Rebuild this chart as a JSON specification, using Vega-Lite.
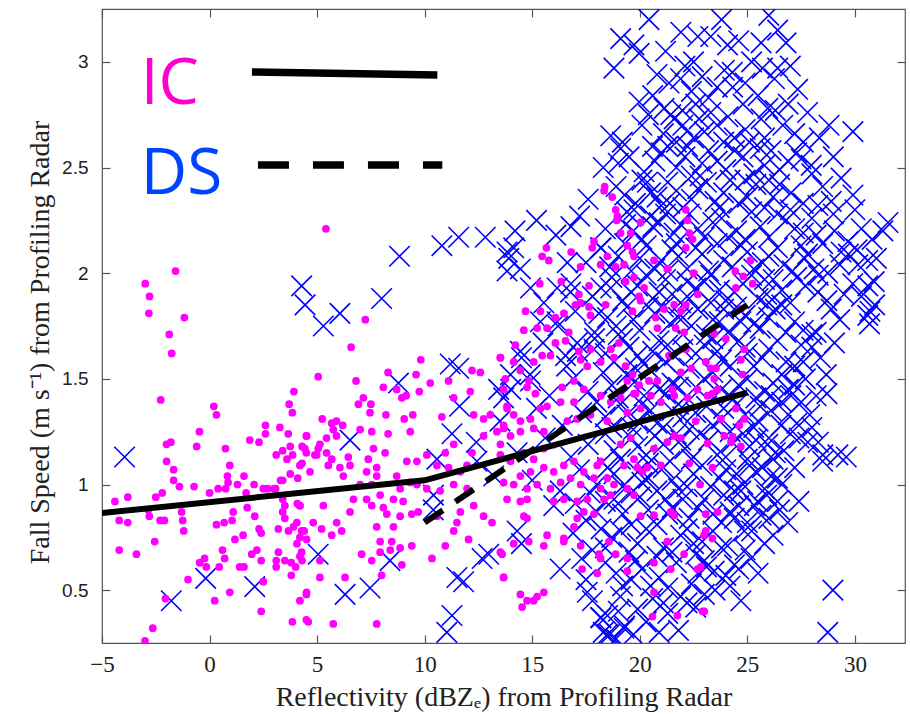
{
"$schema": "https://vega.github.io/schema/vega-lite/v6.json",
"width": 803, "height": 634,
"autosize": {"type": "none"},
"padding": {"left": 102, "top": 9, "right": 5, "bottom": 71},
"background": "white",
"config": {"view": {"stroke": "#555555", "strokeWidth": 1.2},
  "axis": {"grid": false, "domain": false, "tickSize": -8, "tickColor": "#555555", "tickWidth": 1.2, "labelFlush": false, "labelOverlap": false, "titleFontWeight": "normal", "labelColor": "#222222", "titleColor": "#222222"}},
"datasets": {
"ic": [
{"x":-1.58,"y":2.01},{"x":-2.99,"y":1.95},{"x":-2.79,"y":1.89},{"x":-2.82,"y":1.81},{"x":-1.17,"y":1.79},{"x":-1.87,"y":1.71},{"x":-1.76,"y":1.62},{"x":-2.27,"y":1.40},
{"x":3.92,"y":1.44},{"x":3.7,"y":1.38},{"x":3.85,"y":1.34},{"x":0.2,"y":1.37},{"x":0.32,"y":1.33},{"x":-0.47,"y":1.25},{"x":-0.6,"y":1.18},{"x":-2.0,"y":1.19},{"x":-1.8,"y":1.2},{"x":-2.0,"y":1.11},{"x":-1.67,"y":1.07},{"x":-1.67,"y":1.02},{"x":-1.4,"y":0.99},{"x":-0.72,"y":0.99},{"x":-2.2,"y":0.96},{"x":-2.5,"y":0.94},{"x":-4.4,"y":0.92},{"x":-3.8,"y":0.94},{"x":-4.2,"y":0.83},{"x":-3.8,"y":0.82},{"x":-2.8,"y":0.85},{"x":-2.3,"y":0.83},{"x":-2.1,"y":0.83},{"x":-1.3,"y":0.87},{"x":-1.25,"y":0.83},{"x":-1.2,"y":0.78},{"x":-2.55,"y":0.73},{"x":-4.2,"y":0.69},{"x":-3.4,"y":0.67},
{"x":0.74,"y":1.17},{"x":0.94,"y":1.09},{"x":0.83,"y":1.04},{"x":0.86,"y":1.01},{"x":0.75,"y":0.98},{"x":0.4,"y":0.98},{"x":0.0,"y":0.96},{"x":1.6,"y":1.04},{"x":1.3,"y":1.0},{"x":2.07,"y":1.0},{"x":1.75,"y":0.89},{"x":2.1,"y":0.85},{"x":1.1,"y":0.87},{"x":0.32,"y":0.81},{"x":0.68,"y":0.82},{"x":1.05,"y":0.83},{"x":1.18,"y":0.74},{"x":1.56,"y":0.76},{"x":2.3,"y":0.79},{"x":2.4,"y":0.77},{"x":0.6,"y":0.69},{"x":0.7,"y":0.65},{"x":-0.46,"y":0.63},{"x":-0.23,"y":0.65},{"x":-0.15,"y":0.61},{"x":-1.0,"y":0.55},{"x":-2.05,"y":0.46},{"x":-2.64,"y":0.32},{"x":-3.0,"y":0.26},{"x":0.24,"y":0.45},{"x":0.94,"y":0.49},{"x":2.4,"y":0.40},{"x":2.5,"y":0.54},{"x":1.4,"y":0.61},{"x":1.6,"y":0.61},{"x":1.96,"y":0.67},{"x":2.2,"y":0.69},{"x":2.4,"y":0.64},{"x":0.45,"y":0.61},
{"x":1.87,"y":1.21},{"x":2.3,"y":1.2},{"x":2.6,"y":1.24},{"x":2.6,"y":1.28},{"x":3.27,"y":1.27},{"x":3.66,"y":1.24},{"x":3.1,"y":1.14},{"x":3.4,"y":1.16},{"x":3.75,"y":1.18},{"x":3.86,"y":1.14},{"x":3.6,"y":1.12},{"x":3.75,"y":1.05},{"x":3.4,"y":1.02},{"x":3.0,"y":0.98},{"x":2.5,"y":0.98},{"x":2.7,"y":0.98},{"x":3.07,"y":0.98},{"x":3.4,"y":0.93},{"x":3.5,"y":0.90},{"x":3.4,"y":0.87},{"x":3.5,"y":0.84},{"x":3.9,"y":0.80},{"x":4.08,"y":0.91},{"x":4.2,"y":0.90},{"x":4.06,"y":0.82},{"x":3.67,"y":0.78},{"x":3.2,"y":0.79},{"x":4.06,"y":0.72},{"x":4.2,"y":0.75},{"x":4.4,"y":0.78},{"x":3.2,"y":0.68},{"x":3.1,"y":0.64},{"x":3.1,"y":0.61},{"x":3.5,"y":0.64},{"x":3.8,"y":0.63},{"x":3.8,"y":0.57},{"x":4.0,"y":0.61},{"x":4.2,"y":0.66},{"x":4.3,"y":0.64},{"x":4.2,"y":0.45},{"x":4.5,"y":0.48},{"x":3.85,"y":0.35},{"x":4.5,"y":0.36},{"x":4.1,"y":1.03},{"x":4.3,"y":1.1},{"x":4.3,"y":1.18},{"x":4.5,"y":1.23},{"x":4.5,"y":1.15},{"x":3.3,"y":1.02},{"x":1.7,"y":0.96},{"x":-2.85,"y":0.88},
{"x":5.41,"y":2.21},{"x":7.24,"y":1.78},{"x":6.58,"y":1.65},{"x":5.05,"y":1.51},{"x":6.81,"y":1.49},{"x":8.3,"y":1.53},{"x":8.08,"y":1.46},{"x":8.7,"y":1.45},{"x":8.94,"y":1.41},{"x":9.14,"y":1.42},{"x":9.75,"y":1.44},{"x":9.82,"y":1.59},{"x":9.6,"y":1.52},{"x":10.26,"y":1.48},
{"x":7.15,"y":1.41},{"x":6.92,"y":1.38},{"x":7.5,"y":1.38},{"x":7.46,"y":1.34},{"x":8.2,"y":1.33},{"x":9.05,"y":1.31},{"x":9.45,"y":1.33},{"x":9.33,"y":1.25},
{"x":5.24,"y":1.31},{"x":5.68,"y":1.29},{"x":5.9,"y":1.3},{"x":6.19,"y":1.28},{"x":5.75,"y":1.26},{"x":5.9,"y":1.23},{"x":5.44,"y":1.22},{"x":5.13,"y":1.19},{"x":5.05,"y":1.17},{"x":4.98,"y":1.14},
{"x":5.44,"y":1.15},{"x":5.68,"y":1.12},{"x":5.52,"y":1.09},{"x":4.51,"y":1.23},{"x":4.43,"y":1.17},{"x":4.2,"y":1.09},{"x":4.67,"y":1.06},{"x":4.9,"y":1.14},
{"x":6.45,"y":1.13},{"x":6.53,"y":1.09},{"x":6.06,"y":1.08},{"x":6.22,"y":1.04},
{"x":7.0,"y":1.26},{"x":7.54,"y":1.25},{"x":7.62,"y":1.17},{"x":7.38,"y":1.12},{"x":7.77,"y":1.08},{"x":8.3,"y":1.24},{"x":8.16,"y":1.15},
{"x":7.3,"y":1.06},{"x":7.77,"y":1.04},{"x":7.54,"y":1.0},{"x":7.0,"y":1.0},{"x":6.69,"y":0.93},{"x":7.3,"y":0.93},{"x":7.93,"y":0.95},{"x":8.08,"y":0.89},{"x":7.54,"y":0.9},
{"x":8.7,"y":1.04},{"x":9.17,"y":1.11},{"x":9.64,"y":1.11},{"x":9.33,"y":1.01},{"x":8.86,"y":0.98},{"x":8.55,"y":0.93},{"x":9.0,"y":0.92},{"x":9.64,"y":1.0},
{"x":8.24,"y":0.86},{"x":8.86,"y":0.85},{"x":9.4,"y":0.86},{"x":9.7,"y":0.87},{"x":8.55,"y":0.80},{"x":7.77,"y":0.80},{"x":7.93,"y":0.73},{"x":8.47,"y":0.73},{"x":8.86,"y":0.70},{"x":9.4,"y":0.71},
{"x":5.29,"y":0.9},{"x":4.82,"y":0.82},{"x":4.2,"y":0.9},{"x":4.28,"y":0.78},{"x":4.51,"y":0.74},{"x":5.21,"y":0.79},{"x":5.68,"y":0.76},{"x":6.14,"y":0.78},{"x":5.91,"y":0.82},{"x":6.53,"y":0.87},
{"x":7.07,"y":0.67},{"x":7.54,"y":0.64},{"x":7.93,"y":0.68},{"x":8.4,"y":0.69},{"x":8.0,"y":0.57},{"x":8.94,"y":0.62},{"x":6.3,"y":0.56},{"x":5.13,"y":0.56},{"x":4.51,"y":0.49},{"x":4.59,"y":0.35},{"x":5.75,"y":0.34},{"x":7.77,"y":0.34},{"x":4.28,"y":0.68},{"x":5.13,"y":0.64},
{"x":10.1,"y":1.14},{"x":10.57,"y":1.09},{"x":10.96,"y":1.15},{"x":11.35,"y":1.19},{"x":11.11,"y":1.08},{"x":11.66,"y":1.06},{"x":11.97,"y":1.09},{"x":12.2,"y":1.15},{"x":12.74,"y":1.23},{"x":13.36,"y":1.25},{"x":13.52,"y":1.19},{"x":13.67,"y":1.28},{"x":13.83,"y":1.37},
{"x":10.1,"y":0.98},{"x":10.72,"y":0.97},{"x":11.35,"y":1.0},{"x":11.97,"y":0.98},{"x":12.28,"y":0.9},{"x":11.5,"y":0.82},{"x":10.96,"y":0.71},{"x":10.34,"y":0.65},{"x":10.57,"y":0.85},{"x":11.66,"y":0.87},{"x":12.74,"y":0.85},{"x":13.13,"y":0.82},{"x":12.04,"y":0.74},{"x":13.67,"y":0.56},{"x":13.52,"y":0.68},
{"x":11.11,"y":1.49},{"x":11.35,"y":1.41},{"x":12.12,"y":1.44},{"x":12.2,"y":1.54},{"x":12.59,"y":1.53},{"x":13.52,"y":1.6},{"x":12.28,"y":1.33},{"x":12.74,"y":1.31},{"x":13.05,"y":1.33},{"x":10.8,"y":1.32},{"x":11.35,"y":0.78},
{"x":18.37,"y":2.41},{"x":18.34,"y":2.39},{"x":18.72,"y":2.36},{"x":18.88,"y":2.30},{"x":18.96,"y":2.27},{"x":18.93,"y":2.25},{"x":19.11,"y":2.19},{"x":19.58,"y":2.19},{"x":20.04,"y":2.24},
{"x":17.87,"y":2.15},{"x":17.79,"y":2.12},{"x":18.49,"y":2.08},{"x":18.18,"y":2.04},{"x":18.88,"y":2.03},{"x":19.27,"y":2.04},{"x":19.42,"y":2.13},{"x":19.66,"y":2.10},{"x":19.73,"y":2.08},
{"x":15.66,"y":2.12},{"x":15.46,"y":2.08},{"x":15.77,"y":2.06},{"x":16.81,"y":2.10},{"x":17.25,"y":2.03},{"x":17.64,"y":1.94},{"x":16.35,"y":1.96},{"x":15.35,"y":1.95},
{"x":19.34,"y":1.96},{"x":19.73,"y":1.98},{"x":19.97,"y":1.89},{"x":20.2,"y":1.93},{"x":20.66,"y":2.06},{"x":21.28,"y":2.02},
{"x":22.14,"y":2.30},{"x":22.22,"y":2.25},{"x":22.3,"y":2.19},{"x":22.45,"y":2.16},{"x":22.14,"y":2.12},
{"x":17.01,"y":1.85},{"x":17.25,"y":1.86},{"x":17.64,"y":1.84},{"x":17.71,"y":1.80},{"x":18.41,"y":1.85},{"x":17.17,"y":1.90},
{"x":14.69,"y":1.82},{"x":15.38,"y":1.82},{"x":16.08,"y":1.79},{"x":16.47,"y":1.81},{"x":16.7,"y":1.72},{"x":16.55,"y":1.68},{"x":16.08,"y":1.67},{"x":15.69,"y":1.74},{"x":15.23,"y":1.74},{"x":14.61,"y":1.73},{"x":14.22,"y":1.66},
{"x":13.75,"y":1.50},{"x":14.14,"y":1.58},{"x":14.45,"y":1.54},{"x":14.84,"y":1.49},{"x":15.07,"y":1.58},{"x":15.46,"y":1.61},{"x":15.85,"y":1.61},
{"x":17.17,"y":1.63},{"x":17.71,"y":1.64},{"x":18.18,"y":1.58},{"x":17.56,"y":1.56},{"x":17.25,"y":1.59},
{"x":19.66,"y":1.82},{"x":20.04,"y":1.87},{"x":21.13,"y":1.83},{"x":21.6,"y":1.85},{"x":21.91,"y":1.82},{"x":22.14,"y":1.85},{"x":21.67,"y":1.74},{"x":22.06,"y":1.72},{"x":22.14,"y":1.64},{"x":21.36,"y":1.61},{"x":20.82,"y":1.74},{"x":20.74,"y":1.79},
{"x":19.03,"y":1.67},{"x":18.65,"y":1.64},{"x":18.8,"y":1.60},{"x":19.34,"y":1.56},{"x":19.66,"y":1.52},{"x":19.97,"y":1.47},{"x":19.81,"y":1.43},{"x":19.42,"y":1.49},{"x":20.43,"y":1.49},{"x":20.82,"y":1.49},{"x":21.52,"y":1.45},{"x":21.91,"y":1.53},{"x":22.68,"y":1.45},{"x":23.15,"y":1.42},
{"x":13.52,"y":1.60},{"x":13.67,"y":1.45},{"x":14.76,"y":1.46},{"x":15.15,"y":1.43},{"x":16.39,"y":1.46},{"x":16.94,"y":1.49},{"x":17.4,"y":1.45},
{"x":13.83,"y":1.36},{"x":14.14,"y":1.33},{"x":14.45,"y":1.30},{"x":14.92,"y":1.31},{"x":15.38,"y":1.36},{"x":15.69,"y":1.37},{"x":16.32,"y":1.39},{"x":16.94,"y":1.39},{"x":18.18,"y":1.42},{"x":18.65,"y":1.39},{"x":19.11,"y":1.41},{"x":19.73,"y":1.43},{"x":20.51,"y":1.42},{"x":20.98,"y":1.39},{"x":21.6,"y":1.42},{"x":22.22,"y":1.41},
{"x":13.67,"y":1.265},{"x":13.99,"y":1.23},{"x":14.45,"y":1.25},{"x":15.07,"y":1.265},{"x":15.54,"y":1.25},{"x":16.63,"y":1.30},{"x":17.09,"y":1.31},{"x":17.71,"y":1.33},{"x":18.49,"y":1.30},{"x":19.42,"y":1.34},{"x":20.04,"y":1.36},
{"x":13.52,"y":1.14},{"x":13.99,"y":1.11},{"x":14.61,"y":1.15},{"x":15.07,"y":1.12},{"x":15.54,"y":1.17},{"x":14.45,"y":1.04},{"x":14.92,"y":1.06},{"x":15.54,"y":1.08},{"x":16.0,"y":1.06},{"x":16.47,"y":1.09},{"x":16.94,"y":1.11},{"x":17.4,"y":1.06},
{"x":13.67,"y":1.01},{"x":14.14,"y":1.0},{"x":14.76,"y":0.98},{"x":15.23,"y":1.0},{"x":15.85,"y":0.98},{"x":16.32,"y":1.01},{"x":16.78,"y":1.03},{"x":17.25,"y":1.0},{"x":17.87,"y":1.03},{"x":18.18,"y":0.98},{"x":18.49,"y":1.03},{"x":18.8,"y":1.0},{"x":19.42,"y":0.98},{"x":19.73,"y":0.95},{"x":18.65,"y":0.95},{"x":18.34,"y":0.93},
{"x":13.83,"y":0.93},{"x":14.45,"y":0.92},{"x":14.76,"y":0.93},{"x":16.0,"y":0.92},{"x":16.47,"y":0.93},{"x":17.09,"y":0.92},{"x":17.56,"y":0.93},{"x":18.02,"y":1.09},{"x":18.18,"y":1.11},{"x":19.89,"y":1.08},{"x":20.35,"y":1.08},{"x":20.98,"y":1.09},{"x":21.6,"y":1.23},{"x":21.91,"y":1.22},{"x":21.28,"y":1.20},{"x":20.66,"y":1.17},
{"x":17.4,"y":0.87},{"x":17.87,"y":0.86},{"x":17.09,"y":0.84},{"x":14.76,"y":0.84},{"x":14.61,"y":0.85},{"x":15.69,"y":0.76},{"x":16.47,"y":0.745},{"x":16.47,"y":0.73},{"x":15.54,"y":0.71},{"x":14.84,"y":0.73},{"x":14.14,"y":0.72},{"x":13.6,"y":0.67},{"x":13.67,"y":0.56},
{"x":16.94,"y":0.80},{"x":17.25,"y":0.71},{"x":17.32,"y":0.60},{"x":18.1,"y":0.67},{"x":18.18,"y":0.65},{"x":18.02,"y":0.58},{"x":18.57,"y":0.73},{"x":18.88,"y":0.67},
{"x":14.45,"y":0.48},{"x":14.76,"y":0.45},{"x":15.07,"y":0.45},{"x":15.23,"y":0.47},{"x":15.54,"y":0.49},{"x":14.53,"y":0.42},
{"x":19.42,"y":0.65},{"x":20.04,"y":0.85},{"x":20.66,"y":0.855},{"x":21.44,"y":0.87},{"x":21.6,"y":0.855},{"x":21.28,"y":0.73},{"x":20.66,"y":0.63},{"x":21.44,"y":0.60},{"x":22.06,"y":0.67},{"x":22.68,"y":0.60},{"x":22.99,"y":0.76},{"x":19.42,"y":0.59},{"x":20.66,"y":0.49},{"x":20.59,"y":0.375},{"x":21.75,"y":0.38},{"x":22.92,"y":0.40},
{"x":20.12,"y":1.06},{"x":19.73,"y":1.12},{"x":19.27,"y":1.09},{"x":19.11,"y":1.19},{"x":19.58,"y":1.22},
{"x":25.14,"y":2.06},{"x":24.44,"y":2.01},{"x":24.81,"y":1.985},{"x":25.25,"y":1.95},{"x":24.47,"y":1.93},{"x":24.7,"y":1.83},
{"x":23.46,"y":1.714},{"x":24.0,"y":1.69},{"x":24.86,"y":1.64},{"x":24.7,"y":1.59},{"x":23.07,"y":1.58},{"x":23.3,"y":1.55},{"x":23.54,"y":1.55},{"x":23.46,"y":1.50},{"x":24.78,"y":1.52},{"x":23.38,"y":1.43},{"x":23.62,"y":1.45},{"x":24.47,"y":1.36},{"x":24.86,"y":1.31},{"x":23.77,"y":1.31},{"x":24.63,"y":1.28},{"x":23.93,"y":1.23},{"x":24.32,"y":1.226},{"x":24.24,"y":1.20},{"x":24.7,"y":1.18},{"x":23.15,"y":1.195},{"x":23.38,"y":1.08},{"x":23.07,"y":0.86},{"x":23.62,"y":0.87},{"x":23.07,"y":0.78},{"x":23.38,"y":0.745},{"x":22.84,"y":0.61},{"x":23.0,"y":0.40},
{"x":22.5,"y":2.0},{"x":22.7,"y":1.9},{"x":22.4,"y":1.55},{"x":22.6,"y":1.3},{"x":22.3,"y":1.1},{"x":22.8,"y":1.0}
],
"ds": [
{"x":-3.95,"y":1.13},{"x":-1.78,"y":0.45},{"x":-0.18,"y":0.556},{"x":2.1,"y":0.517},{"x":4.28,"y":1.94},{"x":4.44,"y":1.85},{"x":5.29,"y":1.75},{"x":6.06,"y":1.81},{"x":8.0,"y":1.88},{"x":8.83,"y":2.08},{"x":10.8,"y":2.13},{"x":11.58,"y":2.17},{"x":12.82,"y":2.17},{"x":13.83,"y":2.1},{"x":13.83,"y":2.01},{"x":8.78,"y":1.48},{"x":6.53,"y":1.21},{"x":11.19,"y":1.57},{"x":11.58,"y":1.55},{"x":11.62,"y":1.37},{"x":11.27,"y":1.24},{"x":10.57,"y":1.12},{"x":12.43,"y":1.11},{"x":13.44,"y":1.45},{"x":13.67,"y":1.41},{"x":13.21,"y":1.04},{"x":10.41,"y":0.95},{"x":5.05,"y":0.67},{"x":8.39,"y":0.64},{"x":6.3,"y":0.48},{"x":7.46,"y":0.51},{"x":11.5,"y":0.56},{"x":11.81,"y":0.54},{"x":12.67,"y":0.65},{"x":12.98,"y":0.67},{"x":11.27,"y":0.38},{"x":11.03,"y":0.30},
{"x":20.43,"y":3.2},{"x":21.91,"y":3.14},{"x":19.11,"y":3.11},{"x":19.73,"y":3.08},{"x":19.97,"y":3.04},{"x":18.8,"y":2.97},{"x":19.97,"y":2.81},{"x":21.36,"y":2.9},{"x":21.44,"y":2.75},{"x":21.13,"y":2.78},{"x":21.6,"y":2.73},{"x":21.98,"y":2.77},{"x":18.65,"y":2.65},{"x":19.19,"y":2.62},{"x":20.59,"y":2.6},{"x":22.22,"y":2.6},{"x":22.76,"y":2.73},{"x":23.0,"y":2.67},
{"x":24.08,"y":3.08},{"x":26.41,"y":3.15},{"x":25.64,"y":3.09},{"x":26.8,"y":3.09},{"x":23.93,"y":2.96},{"x":24.32,"y":2.88},{"x":26.41,"y":2.97},{"x":26.26,"y":2.92},{"x":27.34,"y":2.87},{"x":25.95,"y":2.78},{"x":25.64,"y":2.73},{"x":26.65,"y":2.70},{"x":28.35,"y":2.64},{"x":29.91,"y":2.67},{"x":29.36,"y":2.45},{"x":29.91,"y":2.37},{"x":31.54,"y":2.24},{"x":29.68,"y":2.15},{"x":30.3,"y":2.21},{"x":30.6,"y":1.94},{"x":28.74,"y":2.0},{"x":27.66,"y":2.07},{"x":27.97,"y":2.51},{"x":27.5,"y":2.54},{"x":27.03,"y":2.38},{"x":28.28,"y":2.32},{"x":29.05,"y":2.2},{"x":29.36,"y":2.1},{"x":30.14,"y":2.04},{"x":30.92,"y":1.85},{"x":30.6,"y":1.80},{"x":28.28,"y":1.91},{"x":28.9,"y":1.83},
{"x":30.68,"y":1.76},{"x":29.05,"y":1.67},{"x":28.67,"y":1.52},{"x":29.21,"y":1.14},{"x":29.6,"y":1.13},{"x":28.51,"y":1.14},{"x":27.81,"y":1.2},{"x":26.88,"y":0.82},{"x":25.64,"y":0.855},{"x":25.17,"y":0.65},{"x":28.98,"y":0.50},{"x":28.74,"y":0.30},{"x":27.5,"y":1.39},{"x":27.03,"y":1.42},{"x":26.57,"y":1.28},{"x":25.95,"y":1.19},{"x":26.1,"y":1.04},{"x":25.48,"y":0.92},{"x":24.7,"y":0.97},{"x":24.39,"y":0.84},{"x":24.08,"y":0.71},{"x":23.46,"y":0.59},{"x":24.86,"y":0.78},{"x":25.33,"y":0.90},
{"x":14.14,"y":2.12},{"x":13.91,"y":2.07},{"x":14.45,"y":2.02},{"x":14.92,"y":1.93},{"x":15.54,"y":1.86},{"x":16.16,"y":1.93},{"x":16.63,"y":2.05},{"x":16.78,"y":1.91},{"x":15.38,"y":1.77},{"x":16.16,"y":1.77},{"x":17.09,"y":1.67},{"x":17.87,"y":1.64},{"x":16.55,"y":1.61},{"x":14.45,"y":1.63},{"x":13.99,"y":1.52},{"x":14.92,"y":1.49},{"x":18.18,"y":2.12},{"x":19.34,"y":2.23},{"x":18.65,"y":1.93},{"x":19.73,"y":2.3},{"x":20.35,"y":2.43},{"x":19.11,"y":2.59},
{"x":22.5,"y":3.0},{"x":23.3,"y":3.12},{"x":22.9,"y":2.93},
{"x":23.2,"y":2.83},{"x":24.8,"y":2.8},{"x":22.4,"y":2.86},{"x":20.6,"y":2.84},{"x":27.8,"y":2.76},
{"x":23.6,"y":2.7},{"x":24.4,"y":2.64},{"x":20.1,"y":2.7},{"x":25.1,"y":2.62},{"x":27.2,"y":2.66},{"x":21.7,"y":2.62},
{"x":18.3,"y":2.5},{"x":19.5,"y":2.55},{"x":20.2,"y":2.48},{"x":21.0,"y":2.57},{"x":21.7,"y":2.5},{"x":22.4,"y":2.46},{"x":23.2,"y":2.58},{"x":24.0,"y":2.49},{"x":24.8,"y":2.55},{"x":25.3,"y":2.47},{"x":26.1,"y":2.58},{"x":28.0,"y":2.47},{"x":22.9,"y":2.52},{"x":25.8,"y":2.51},{"x":26.9,"y":2.53},
{"x":17.6,"y":2.35},{"x":18.9,"y":2.41},{"x":19.8,"y":2.33},{"x":20.5,"y":2.38},{"x":21.3,"y":2.43},{"x":22.0,"y":2.31},{"x":22.7,"y":2.4},{"x":23.5,"y":2.34},{"x":24.2,"y":2.44},{"x":25.0,"y":2.36},{"x":25.8,"y":2.31},{"x":26.5,"y":2.42},{"x":27.6,"y":2.33},{"x":21.0,"y":2.32},{"x":23.9,"y":2.38},{"x":26.0,"y":2.44},
{"x":14.2,"y":2.2},{"x":15.2,"y":2.25},{"x":16.1,"y":2.18},{"x":17.2,"y":2.27},{"x":18.4,"y":2.21},{"x":19.4,"y":2.29},{"x":20.1,"y":2.16},{"x":20.9,"y":2.24},{"x":21.6,"y":2.19},{"x":22.3,"y":2.28},{"x":23.0,"y":2.17},{"x":23.8,"y":2.26},{"x":24.5,"y":2.2},{"x":25.2,"y":2.29},{"x":26.0,"y":2.17},{"x":26.8,"y":2.25},{"x":27.6,"y":2.19},{"x":29.0,"y":2.28},{"x":31.3,"y":2.2},{"x":16.8,"y":2.22},{"x":21.2,"y":2.28},{"x":24.9,"y":2.16},{"x":28.2,"y":2.18},
{"x":17.5,"y":2.05},{"x":18.2,"y":2.12},{"x":19.0,"y":2.08},{"x":19.6,"y":2.01},{"x":20.3,"y":2.13},{"x":21.0,"y":2.06},{"x":21.5,"y":2.11},{"x":22.2,"y":2.02},{"x":22.9,"y":2.09},{"x":23.6,"y":2.14},{"x":24.3,"y":2.03},{"x":25.0,"y":2.1},{"x":25.7,"y":2.05},{"x":26.4,"y":2.12},{"x":27.1,"y":2.01},{"x":27.8,"y":2.09},{"x":28.5,"y":2.14},{"x":30.1,"y":2.11},{"x":30.6,"y":2.06},{"x":29.3,"y":2.04},{"x":23.2,"y":2.01},{"x":26.0,"y":2.08},{"x":20.7,"y":2.02},
{"x":16.8,"y":1.95},{"x":17.8,"y":1.89},{"x":18.7,"y":1.98},{"x":19.2,"y":1.87},{"x":19.9,"y":1.94},{"x":20.6,"y":1.88},{"x":21.2,"y":1.97},{"x":21.9,"y":1.86},{"x":22.6,"y":1.93},{"x":23.3,"y":1.99},{"x":24.0,"y":1.87},{"x":24.8,"y":1.95},{"x":25.5,"y":1.88},{"x":26.2,"y":1.97},{"x":27.0,"y":1.86},{"x":27.7,"y":1.94},{"x":28.3,"y":1.99},{"x":29.5,"y":1.9},{"x":30.9,"y":1.96},{"x":30.3,"y":1.89},{"x":22.2,"y":1.96},{"x":25.9,"y":1.9},{"x":23.7,"y":1.92},
{"x":16.2,"y":1.75},{"x":17.0,"y":1.82},{"x":17.9,"y":1.72},{"x":18.5,"y":1.79},{"x":19.4,"y":1.84},{"x":20.0,"y":1.73},{"x":20.7,"y":1.81},{"x":21.4,"y":1.76},{"x":22.0,"y":1.71},{"x":22.7,"y":1.83},{"x":23.4,"y":1.78},{"x":24.1,"y":1.72},{"x":24.9,"y":1.8},{"x":25.6,"y":1.74},{"x":26.3,"y":1.83},{"x":27.2,"y":1.77},{"x":28.0,"y":1.71},{"x":30.7,"y":1.82},{"x":21.1,"y":1.84},{"x":23.9,"y":1.83},{"x":26.8,"y":1.72},{"x":19.0,"y":1.71},
{"x":14.5,"y":1.6},{"x":15.5,"y":1.67},{"x":16.6,"y":1.56},{"x":17.1,"y":1.63},{"x":17.9,"y":1.69},{"x":18.8,"y":1.58},{"x":19.5,"y":1.65},{"x":20.2,"y":1.57},{"x":20.9,"y":1.68},{"x":21.6,"y":1.61},{"x":22.3,"y":1.55},{"x":23.0,"y":1.66},{"x":23.8,"y":1.59},{"x":24.6,"y":1.68},{"x":25.3,"y":1.56},{"x":26.0,"y":1.64},{"x":26.8,"y":1.58},{"x":27.5,"y":1.66},{"x":28.4,"y":1.6},{"x":22.0,"y":1.64},{"x":25.0,"y":1.62},{"x":19.9,"y":1.61},
{"x":14.0,"y":1.45},{"x":14.9,"y":1.52},{"x":15.8,"y":1.42},{"x":16.9,"y":1.5},{"x":17.6,"y":1.44},{"x":18.3,"y":1.53},{"x":19.0,"y":1.41},{"x":19.8,"y":1.49},{"x":20.5,"y":1.54},{"x":21.2,"y":1.43},{"x":21.9,"y":1.51},{"x":22.6,"y":1.46},{"x":23.4,"y":1.53},{"x":24.2,"y":1.42},{"x":25.0,"y":1.5},{"x":25.8,"y":1.44},{"x":26.6,"y":1.52},{"x":27.2,"y":1.47},{"x":28.7,"y":1.43},{"x":24.6,"y":1.47},{"x":20.9,"y":1.45},
{"x":13.5,"y":1.3},{"x":15.2,"y":1.36},{"x":16.4,"y":1.28},{"x":17.3,"y":1.34},{"x":18.0,"y":1.39},{"x":18.7,"y":1.27},{"x":19.4,"y":1.33},{"x":20.1,"y":1.38},{"x":20.8,"y":1.29},{"x":21.5,"y":1.35},{"x":22.3,"y":1.26},{"x":23.1,"y":1.37},{"x":23.8,"y":1.31},{"x":24.5,"y":1.38},{"x":25.3,"y":1.27},{"x":26.1,"y":1.35},{"x":26.6,"y":1.39},{"x":27.3,"y":1.29},{"x":22.0,"y":1.32},{"x":24.9,"y":1.33},{"x":19.7,"y":1.26},
{"x":12.4,"y":1.2},{"x":14.3,"y":1.15},{"x":15.6,"y":1.22},{"x":16.8,"y":1.13},{"x":17.6,"y":1.19},{"x":18.4,"y":1.24},{"x":19.1,"y":1.12},{"x":19.9,"y":1.18},{"x":20.7,"y":1.23},{"x":21.4,"y":1.11},{"x":22.1,"y":1.17},{"x":22.8,"y":1.24},{"x":23.6,"y":1.14},{"x":24.3,"y":1.2},{"x":25.0,"y":1.12},{"x":26.7,"y":1.16},{"x":27.4,"y":1.22},{"x":28.5,"y":1.11},{"x":21.9,"y":1.21},{"x":24.8,"y":1.24},{"x":20.3,"y":1.14},
{"x":15.0,"y":1.02},{"x":16.3,"y":0.97},{"x":17.2,"y":1.07},{"x":18.0,"y":1.0},{"x":18.8,"y":1.05},{"x":19.6,"y":0.96},{"x":20.4,"y":1.03},{"x":21.1,"y":1.08},{"x":21.8,"y":0.98},{"x":22.5,"y":1.05},{"x":23.3,"y":0.99},{"x":24.0,"y":1.07},{"x":24.8,"y":1.0},{"x":25.4,"y":1.06},{"x":26.4,"y":1.03},{"x":21.5,"y":1.02},{"x":23.7,"y":1.03},{"x":19.2,"y":0.99},
{"x":10.4,"y":0.88},{"x":16.0,"y":0.9},{"x":17.5,"y":0.83},{"x":18.4,"y":0.92},{"x":19.2,"y":0.86},{"x":20.0,"y":0.94},{"x":20.8,"y":0.81},{"x":21.5,"y":0.89},{"x":22.3,"y":0.84},{"x":23.0,"y":0.93},{"x":23.8,"y":0.82},{"x":24.6,"y":0.9},{"x":26.0,"y":0.84},{"x":22.0,"y":0.93},{"x":24.2,"y":0.87},{"x":19.6,"y":0.81},
{"x":14.5,"y":0.72},{"x":16.9,"y":0.77},{"x":17.8,"y":0.69},{"x":18.7,"y":0.75},{"x":19.5,"y":0.68},{"x":20.3,"y":0.79},{"x":21.1,"y":0.7},{"x":21.9,"y":0.76},{"x":22.6,"y":0.67},{"x":23.4,"y":0.78},{"x":24.9,"y":0.69},{"x":22.9,"y":0.73},{"x":20.8,"y":0.66},{"x":18.2,"y":0.79},{"x":14.3,"y":0.78},
{"x":16.3,"y":0.6},{"x":17.5,"y":0.55},{"x":18.4,"y":0.63},{"x":19.2,"y":0.52},{"x":20.1,"y":0.6},{"x":20.9,"y":0.56},{"x":21.7,"y":0.63},{"x":22.4,"y":0.53},{"x":23.1,"y":0.61},{"x":24.0,"y":0.57},{"x":18.9,"y":0.58},{"x":21.3,"y":0.51},
{"x":17.8,"y":0.45},{"x":18.5,"y":0.38},{"x":19.1,"y":0.47},{"x":19.9,"y":0.41},{"x":20.6,"y":0.46},{"x":21.3,"y":0.39},{"x":22.2,"y":0.44},{"x":23.0,"y":0.48},{"x":18.2,"y":0.37},
{"x":18.3,"y":0.3},{"x":18.9,"y":0.27},{"x":19.3,"y":0.33},{"x":18.6,"y":0.29},
{"x":17.56,"y":0.49},{"x":18.18,"y":0.37},{"x":18.49,"y":0.29},{"x":19.27,"y":0.32},
{"x":21.2,"y":3.05},{"x":23.8,"y":3.2},{"x":25.2,"y":3.0},{"x":26.0,"y":3.22},{"x":24.6,"y":3.1},{"x":22.1,"y":2.98},{"x":27.0,"y":2.98},
{"x":21.9,"y":2.92},{"x":23.6,"y":2.88},{"x":24.9,"y":2.9},{"x":25.5,"y":2.84},{"x":26.9,"y":2.8},{"x":20.8,"y":2.94},{"x":22.6,"y":2.8},
{"x":21.1,"y":2.66},{"x":22.0,"y":2.7},{"x":23.3,"y":2.76},{"x":24.1,"y":2.74},{"x":24.9,"y":2.68},{"x":25.8,"y":2.64},{"x":26.3,"y":2.77},{"x":27.6,"y":2.62},{"x":20.4,"y":2.75},{"x":22.5,"y":2.64},{"x":28.8,"y":2.7},
{"x":19.0,"y":2.52},{"x":20.7,"y":2.53},{"x":21.3,"y":2.6},{"x":22.1,"y":2.55},{"x":23.6,"y":2.53},{"x":24.4,"y":2.58},{"x":25.6,"y":2.59},{"x":26.5,"y":2.49},{"x":27.3,"y":2.57},{"x":29.0,"y":2.55},
{"x":19.3,"y":2.37},{"x":20.1,"y":2.44},{"x":20.8,"y":2.36},{"x":21.7,"y":2.39},{"x":22.4,"y":2.35},{"x":23.1,"y":2.43},{"x":23.7,"y":2.31},{"x":24.6,"y":2.33},{"x":25.4,"y":2.42},{"x":26.2,"y":2.36},{"x":27.0,"y":2.3},{"x":28.5,"y":2.41},{"x":28.9,"y":2.34},
{"x":19.7,"y":2.2},{"x":20.5,"y":2.27},{"x":21.9,"y":2.23},{"x":22.7,"y":2.21},{"x":23.4,"y":2.24},{"x":24.1,"y":2.17},{"x":25.6,"y":2.22},{"x":26.4,"y":2.28},{"x":27.2,"y":2.21},{"x":28.0,"y":2.26},{"x":30.0,"y":2.3},{"x":30.8,"y":2.16},
{"x":18.6,"y":2.03},{"x":19.3,"y":2.14},{"x":20.0,"y":2.07},{"x":21.3,"y":2.01},{"x":21.8,"y":2.08},{"x":22.6,"y":2.12},{"x":23.9,"y":2.06},{"x":24.7,"y":2.13},{"x":25.3,"y":2.02},{"x":26.7,"y":2.04},{"x":27.5,"y":2.13},{"x":28.1,"y":2.02},{"x":29.7,"y":2.09},{"x":31.0,"y":2.07},
{"x":18.2,"y":1.93},{"x":19.6,"y":1.91},{"x":20.3,"y":1.99},{"x":21.5,"y":1.9},{"x":22.3,"y":1.88},{"x":23.0,"y":1.96},{"x":24.4,"y":1.91},{"x":25.2,"y":1.99},{"x":25.9,"y":1.85},{"x":26.6,"y":1.92},{"x":27.3,"y":1.98},{"x":28.7,"y":1.87},{"x":29.9,"y":1.95},
{"x":18.1,"y":1.81},{"x":18.9,"y":1.75},{"x":19.7,"y":1.78},{"x":20.4,"y":1.84},{"x":21.8,"y":1.79},{"x":22.4,"y":1.75},{"x":23.1,"y":1.71},{"x":23.7,"y":1.77},{"x":24.5,"y":1.84},{"x":25.3,"y":1.76},{"x":26.0,"y":1.79},{"x":26.6,"y":1.85},{"x":27.6,"y":1.73},{"x":29.3,"y":1.78},
{"x":18.4,"y":1.62},{"x":19.2,"y":1.69},{"x":19.8,"y":1.55},{"x":20.6,"y":1.63},{"x":21.3,"y":1.66},{"x":22.6,"y":1.62},{"x":23.4,"y":1.69},{"x":24.2,"y":1.56},{"x":24.9,"y":1.65},{"x":25.7,"y":1.6},{"x":26.4,"y":1.68},{"x":27.2,"y":1.56},{"x":28.0,"y":1.65},
{"x":18.7,"y":1.47},{"x":19.4,"y":1.52},{"x":20.2,"y":1.42},{"x":21.5,"y":1.48},{"x":22.3,"y":1.4},{"x":23.0,"y":1.5},{"x":23.8,"y":1.45},{"x":25.4,"y":1.41},{"x":26.2,"y":1.48},{"x":27.7,"y":1.5},{"x":28.2,"y":1.42},
{"x":18.4,"y":1.32},{"x":19.1,"y":1.38},{"x":19.9,"y":1.3},{"x":21.1,"y":1.27},{"x":21.8,"y":1.38},{"x":22.6,"y":1.34},{"x":23.4,"y":1.28},{"x":24.2,"y":1.25},{"x":25.6,"y":1.37},{"x":26.9,"y":1.33},{"x":28.0,"y":1.27},
{"x":18.8,"y":1.16},{"x":19.6,"y":1.22},{"x":20.4,"y":1.1},{"x":21.1,"y":1.19},{"x":22.4,"y":1.12},{"x":23.2,"y":1.21},{"x":24.0,"y":1.13},{"x":25.4,"y":1.21},{"x":26.2,"y":1.12},{"x":27.0,"y":1.24},
{"x":17.7,"y":0.96},{"x":18.5,"y":1.08},{"x":19.9,"y":1.06},{"x":20.8,"y":0.97},{"x":22.2,"y":0.99},{"x":22.9,"y":1.09},{"x":24.4,"y":0.97},{"x":25.1,"y":1.09},{"x":25.8,"y":0.98},
{"x":17.0,"y":0.91},{"x":18.0,"y":0.87},{"x":18.8,"y":0.93},{"x":20.4,"y":0.88},{"x":21.2,"y":0.93},{"x":22.7,"y":0.89},{"x":23.4,"y":0.86},{"x":25.0,"y":0.82},{"x":26.4,"y":0.92},
{"x":17.3,"y":0.65},{"x":18.4,"y":0.7},{"x":19.1,"y":0.78},{"x":19.9,"y":0.72},{"x":21.5,"y":0.68},{"x":22.2,"y":0.79},{"x":23.0,"y":0.64},{"x":23.8,"y":0.7},{"x":24.4,"y":0.62},
{"x":19.6,"y":0.55},{"x":20.5,"y":0.52},{"x":21.9,"y":0.47},{"x":22.7,"y":0.58},{"x":20.3,"y":0.35},{"x":21.8,"y":0.31},{"x":19.7,"y":0.29},
{"x":25.5,"y":1.3},{"x":26.0,"y":1.22},{"x":26.3,"y":1.15},{"x":25.7,"y":1.08},{"x":26.6,"y":1.0},{"x":27.2,"y":1.08},{"x":25.9,"y":0.95},{"x":26.5,"y":0.88},{"x":25.2,"y":0.78},{"x":25.8,"y":0.72},{"x":24.6,"y":0.6},{"x":24.2,"y":0.52},{"x":25.5,"y":0.58},{"x":26.2,"y":0.76},{"x":27.4,"y":0.92},{"x":27.9,"y":1.33},{"x":28.3,"y":1.2},{"x":26.9,"y":1.45},{"x":27.6,"y":1.58},{"x":28.2,"y":1.72},{"x":26.1,"y":1.42},{"x":25.1,"y":1.18},{"x":24.5,"y":1.05},{"x":23.9,"y":0.95},{"x":23.5,"y":0.5},{"x":24.7,"y":0.45},{"x":22.6,"y":0.42},{"x":21.1,"y":0.44},{"x":20.9,"y":0.3},{"x":19.0,"y":0.4},
{"x":20.6,"y":2.22},{"x":21.4,"y":2.33},{"x":22.8,"y":2.46},{"x":23.9,"y":2.62},{"x":24.3,"y":2.95},{"x":25.7,"y":2.97},{"x":22.7,"y":3.12},{"x":24.9,"y":2.44},{"x":23.3,"y":1.86},{"x":24.7,"y":1.77},{"x":25.8,"y":1.97},{"x":21.7,"y":2.14},{"x":20.9,"y":1.91},{"x":22.0,"y":1.79},{"x":21.2,"y":1.58},{"x":20.5,"y":1.35},{"x":21.7,"y":1.24},{"x":23.9,"y":1.36},{"x":20.1,"y":1.01},{"x":21.3,"y":0.86},{"x":19.0,"y":0.91},{"x":19.8,"y":0.64},{"x":22.5,"y":0.72},{"x":21.8,"y":1.46},{"x":23.6,"y":1.63}
],
"fit": [
{"x":-5,"y":0.865,"s":"IC"},{"x":10,"y":1.02,"s":"IC"},{"x":25,"y":1.435,"s":"IC"},
{"x":10,"y":0.82,"s":"DS"},{"x":25,"y":1.85,"s":"DS"}
],
"leg": [
{"x":1.97,"y":2.952,"k":"IC"},{"x":10.59,"y":2.938,"k":"IC"},
{"x":2.25,"y":2.512,"k":"DS"},{"x":10.82,"y":2.512,"k":"DS"}
],
"lab": [
{"x":-3.2,"y":2.80,"t":"IC"},{"x":-3.2,"y":2.375,"t":"DS"}
]
},
"layer": [
{"data": {"name": "ds"},
 "mark": {"type": "point", "shape": "M-1,-1L1,1M-1,1L1,-1", "filled": false, "stroke": "#0000ff", "strokeWidth": 1.6, "size": 420, "opacity": 1, "clip": true},
 "encoding": {
  "x": {"field": "x", "type": "quantitative", "scale": {"domain": [-5, 32.33], "nice": false, "zero": false},
        "axis": {"orient": "bottom", "values": [-5,0,5,10,15,20,25,30], "format": "d", "labelFont": "Liberation Serif", "labelFontSize": 23, "labelPadding": 18,
                 "title": "Reflectivity (dBZₑ) from Profiling Radar", "titleFont": "Liberation Serif", "titleFontSize": 28, "titleY": 62, "titleBaseline": "alphabetic"}},
  "y": {"field": "y", "type": "quantitative", "scale": {"domain": [0.25, 3.25], "nice": false, "zero": false},
        "axis": {"orient": "left", "values": [0.5,1,1.5,2,2.5,3], "format": "~g", "labelFont": "Liberation Sans", "labelFontSize": 19, "labelPadding": 22,
                 "title": "Fall Speed (m s⁻¹) from Profiling Radar", "titleFont": "Liberation Serif", "titleFontSize": 28, "titleX": -54, "titleY": 333, "titleBaseline": "alphabetic", "titleAngle": 270}}
 }},
{"data": {"name": "ic"},
 "mark": {"type": "circle", "color": "#ff00ff", "size": 60, "opacity": 1, "clip": true},
 "encoding": {
  "x": {"field": "x", "type": "quantitative", "axis": {"orient": "top", "values": [-5,0,5,10,15,20,25,30], "labels": false, "title": null}},
  "y": {"field": "y", "type": "quantitative", "axis": {"orient": "right", "values": [0.5,1,1.5,2,2.5,3], "labels": false, "title": null}}
 }},
{"data": {"name": "fit"},
 "transform": [{"filter": "datum.s === 'IC'"}],
 "mark": {"type": "line", "color": "black", "strokeWidth": 6, "clip": true},
 "encoding": {"x": {"field": "x", "type": "quantitative", "axis": null}, "y": {"field": "y", "type": "quantitative", "axis": null}}},
{"data": {"name": "fit"},
 "transform": [{"filter": "datum.s === 'DS'"}],
 "mark": {"type": "line", "color": "black", "strokeWidth": 6, "strokeDash": [22, 15], "clip": true},
 "encoding": {"x": {"field": "x", "type": "quantitative", "axis": null}, "y": {"field": "y", "type": "quantitative", "axis": null}}},
{"data": {"name": "leg"},
 "transform": [{"filter": "datum.k === 'IC'"}],
 "mark": {"type": "line", "color": "black", "strokeWidth": 7.5},
 "encoding": {"x": {"field": "x", "type": "quantitative", "axis": null}, "y": {"field": "y", "type": "quantitative", "axis": null}}},
{"data": {"name": "leg"},
 "transform": [{"filter": "datum.k === 'DS'"}],
 "mark": {"type": "line", "color": "black", "strokeWidth": 7.5, "strokeDash": [31, 24]},
 "encoding": {"x": {"field": "x", "type": "quantitative", "axis": null}, "y": {"field": "y", "type": "quantitative", "axis": null}}},
{"data": {"name": "lab"},
 "mark": {"type": "text", "font": "Open Sans", "fontSize": 64, "align": "left", "baseline": "alphabetic"},
 "encoding": {"x": {"field": "x", "type": "quantitative", "axis": null}, "y": {"field": "y", "type": "quantitative", "axis": null},
  "text": {"field": "t"},
  "color": {"field": "t", "type": "nominal", "scale": {"domain": ["IC", "DS"], "range": ["#ff00cc", "#0044ff"]}, "legend": null}}}
],
"resolve": {"axis": {"x": "independent", "y": "independent"}}
}
